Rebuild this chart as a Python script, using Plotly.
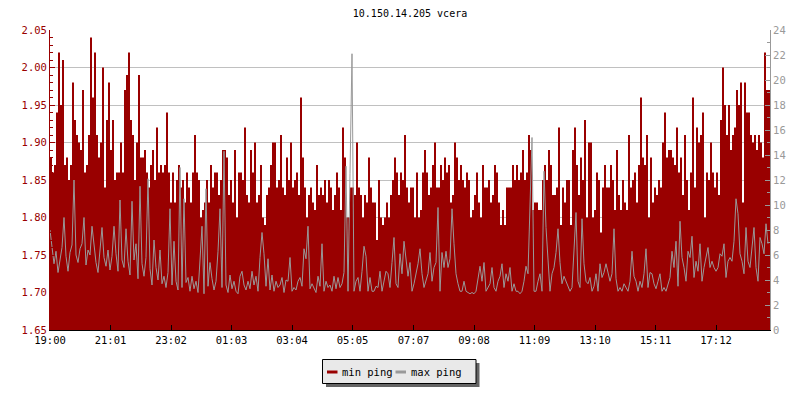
import plotly.graph_objects as go
from datetime import datetime, timedelta

title_text = "10.150.14.205 vcera"
series_names = ["min ping", "max ping"]
start_time = "2024-01-01 19:00"
sample_minutes = 4
x_tick_labels = ["19:00", "21:01", "23:02", "01:03", "03:04", "05:05",
                 "07:07", "09:08", "11:09", "13:10", "15:11", "17:12"]

# min ping (left axis, ms) - one value every 4 minutes, 19:00 -> 19:00
min_ping = [
    1.88, 1.86, 1.87, 1.94, 2.02, 1.95, 2.01, 1.87, 1.88, 1.85, 1.87, 1.98, 1.93, 1.91, 1.90, 1.89, 1.97, 1.86, 1.87, 1.91,
    2.04, 1.96, 2.02, 1.91, 1.88, 1.90, 2.00, 1.84, 1.93, 1.98, 1.89, 1.93, 1.85, 1.86, 1.86, 1.90, 1.86, 1.97, 1.99, 2.02,
    1.93, 1.91, 1.85, 1.90, 1.99, 1.88, 1.88, 1.89, 1.86, 1.84, 1.87, 1.89, 1.85, 1.92, 1.86, 1.87, 1.86, 1.87, 1.94, 1.86,
    1.82, 1.86, 1.82, 1.85, 1.87, 1.84, 1.85, 1.82, 1.86, 1.84, 1.82, 1.86, 1.91, 1.86, 1.85, 1.80, 1.81, 1.82, 1.85, 1.82,
    1.87, 1.84, 1.86, 1.86, 1.83, 1.85, 1.89, 1.89, 1.88, 1.83, 1.85, 1.82, 1.89, 1.80, 1.86, 1.86, 1.85, 1.92, 1.83, 1.82,
    1.89, 1.86, 1.90, 1.82, 1.83, 1.87, 1.80, 1.79, 1.83, 1.84, 1.87, 1.90, 1.90, 1.84, 1.85, 1.91, 1.84, 1.83, 1.88, 1.85,
    1.90, 1.84, 1.85, 1.86, 1.83, 1.96, 1.88, 1.84, 1.80, 1.83, 1.84, 1.82, 1.81, 1.87, 1.83, 1.84, 1.83, 1.85, 1.82, 1.85,
    1.84, 1.81, 1.83, 1.86, 1.84, 1.81, 1.92, 1.88, 1.80, 1.80, 1.84, 1.84, 1.83, 1.90, 1.84, 1.83, 1.80, 1.83, 1.82, 1.88,
    1.84, 1.82, 1.82, 1.77, 1.85, 1.80, 1.79, 1.80, 1.82, 1.80, 1.83, 1.85, 1.88, 1.86, 1.83, 1.86, 1.85, 1.91, 1.84, 1.82,
    1.84, 1.84, 1.80, 1.86, 1.80, 1.81, 1.86, 1.89, 1.86, 1.83, 1.84, 1.87, 1.90, 1.84, 1.84, 1.87, 1.85, 1.88, 1.86, 1.87,
    1.82, 1.83, 1.90, 1.88, 1.85, 1.87, 1.85, 1.84, 1.86, 1.85, 1.80, 1.81, 1.83, 1.86, 1.82, 1.80, 1.87, 1.84, 1.84, 1.85,
    1.82, 1.83, 1.87, 1.86, 1.82, 1.79, 1.81, 1.79, 1.84, 1.84, 1.84, 1.87, 1.85, 1.87, 1.85, 1.86, 1.89, 1.85, 1.86, 1.91,
    1.89, 1.81, 1.82, 1.82, 1.81, 1.81, 1.85, 1.87, 1.85, 1.89, 1.87, 1.83, 1.83, 1.84, 1.92, 1.79, 1.84, 1.82, 1.85, 1.85,
    1.79, 1.89, 1.92, 1.87, 1.83, 1.88, 1.85, 1.93, 1.80, 1.90, 1.90, 1.80, 1.81, 1.86, 1.85, 1.78, 1.84, 1.87, 1.84, 1.84,
    1.87, 1.85, 1.81, 1.89, 1.83, 1.81, 1.85, 1.82, 1.81, 1.91, 1.84, 1.85, 1.86, 1.82, 1.87, 1.96, 1.88, 1.87, 1.91, 1.80,
    1.88, 1.82, 1.84, 1.83, 1.85, 1.84, 1.90, 1.94, 1.88, 1.89, 1.89, 1.88, 1.87, 1.92, 1.86, 1.88, 1.83, 1.91, 1.85, 1.81,
    1.86, 1.96, 1.84, 1.92, 1.90, 1.91, 1.94, 1.80, 1.86, 1.85, 1.90, 1.86, 1.84, 1.86, 1.83, 1.93, 2.00, 1.95, 1.91, 1.95,
    1.89, 1.91, 1.92, 1.97, 1.95, 1.98, 1.82, 1.98, 1.94, 1.94, 1.91, 1.90, 1.91, 1.89, 1.91, 1.90, 1.88, 2.02, 1.97, 1.97,
]

# max ping (right axis) - same 4-minute samples
max_ping = [
    8.0, 6.5, 5.3, 6.3, 4.6, 5.6, 6.6, 9.0, 5.9, 4.7, 6.2, 6.8, 12.0, 6.0, 5.4, 6.5, 6.9, 9.0, 5.2, 6.4,
    6.0, 8.3, 6.6, 5.4, 4.6, 6.8, 8.2, 5.8, 5.1, 6.4, 4.8, 5.9, 8.3, 6.1, 4.7, 10.4, 5.6, 5.0, 8.1, 5.5,
    4.4, 10.3, 5.6, 6.9, 4.1, 11.5, 5.3, 4.3, 5.8, 12.1, 4.9, 3.6, 7.2, 5.0, 4.0, 6.4, 3.7, 4.3, 3.4, 4.6,
    9.7, 3.6, 7.1, 3.9, 3.2, 13.0, 3.4, 10.5, 3.8, 4.2, 3.1, 4.3, 3.3, 3.9, 3.0, 5.6, 8.3, 2.9, 11.3, 3.5,
    5.4, 4.1, 3.2, 3.9, 6.3, 9.7, 3.4, 14.3, 3.6, 3.0, 4.4, 3.3, 3.9, 3.1, 2.9, 4.3, 4.7, 3.6, 3.2, 3.9,
    3.3, 4.7, 3.6, 4.3, 3.1, 5.8, 7.8, 6.1, 3.5, 5.7, 3.2, 4.4, 3.1, 3.9, 3.4, 3.6, 4.2, 3.0, 4.0, 3.9,
    5.8, 3.1, 3.4, 3.2, 3.9, 4.2, 3.5, 6.5, 5.7, 8.3, 3.3, 3.7, 3.3, 3.0, 4.3, 3.5, 6.9, 3.1, 3.9, 3.4,
    3.6, 3.1, 4.3, 3.3, 4.2, 3.4, 3.7, 4.6, 13.1, 3.1, 12.5, 22.1, 3.1, 3.9, 4.2, 3.1, 4.7, 6.7, 5.9, 3.1,
    4.2, 3.1, 3.1, 3.5, 3.4, 4.7, 3.1, 3.9, 4.7, 4.5, 3.4, 5.4, 7.4, 3.7, 3.4, 6.1, 4.5, 7.1, 5.4, 4.3,
    5.4, 3.1, 3.7, 4.5, 5.3, 6.5, 4.5, 3.4, 3.9, 4.5, 6.2, 3.9, 5.0, 5.4, 9.8, 3.1, 6.2, 5.0, 6.3, 5.0,
    5.7, 9.7, 6.9, 4.5, 3.7, 3.1, 3.1, 3.9, 3.1, 3.0, 2.9, 3.0, 2.9, 3.1, 4.3, 5.1, 3.9, 5.4, 3.1, 3.4,
    3.7, 5.0, 3.4, 3.1, 3.9, 4.3, 5.3, 3.4, 4.5, 3.9, 5.0, 3.1, 3.7, 3.1, 3.1, 2.9, 3.1, 3.9, 5.1, 4.5,
    9.4, 15.4, 3.1, 3.1, 3.9, 4.5, 3.1, 12.7, 8.2, 5.4, 3.1, 4.5, 5.0, 6.2, 8.1, 5.4, 3.7, 4.3, 3.9, 3.4,
    3.1, 3.4, 6.1, 9.4, 3.9, 3.4, 8.9, 5.3, 3.9, 3.7, 4.2, 3.1, 3.5, 4.5, 3.1, 5.3, 4.2, 4.6, 5.3, 4.7,
    3.9, 4.5, 8.1, 4.1, 3.1, 3.4, 3.1, 3.7, 3.4, 3.1, 3.9, 6.3, 4.3, 3.9, 3.1, 3.9, 3.4, 4.5, 6.5, 3.4,
    4.6, 4.5, 3.7, 3.3, 3.9, 4.5, 3.1, 3.4, 3.1, 3.7, 4.2, 6.3, 5.0, 7.1, 3.5, 8.7, 5.8, 5.0, 3.9, 6.3,
    5.8, 7.5, 4.2, 5.5, 4.7, 6.9, 3.9, 5.0, 5.8, 6.6, 5.0, 5.5, 5.0, 4.7, 5.0, 6.1, 5.9, 6.9, 4.2, 5.5,
    5.8, 5.5, 7.1, 10.5, 9.3, 6.1, 5.5, 4.5, 8.2, 5.5, 5.0, 6.9, 8.2, 5.0, 3.9, 7.4, 6.9, 6.1, 8.5, 6.9,
]

RED = "#990000"
GRAY = "#999999"
MONO = "DejaVu Sans Mono"

t0 = datetime.strptime(start_time, "%Y-%m-%d %H:%M")
times = [t0 + timedelta(minutes=sample_minutes * i) for i in range(len(min_ping))]
t_end = t0 + timedelta(hours=24)


def label_to_dt(lbl):
    h, m = map(int, lbl.split(":"))
    d = t0.replace(hour=h, minute=m)
    if d < t0:
        d += timedelta(days=1)
    return d


tick_vals = [label_to_dt(l) for l in x_tick_labels]

fig = go.Figure()
fig.add_trace(go.Scatter(
    x=times + [t_end], y=min_ping + [min_ping[-1]], name=series_names[0],
    mode="lines", line=dict(shape="hv", width=0, color=RED),
    fill="tozeroy", fillcolor=RED, hoverinfo="skip"))
fig.add_trace(go.Scatter(
    x=times, y=max_ping, name=series_names[1], yaxis="y2",
    mode="lines", line=dict(color=GRAY, width=1)))

L, R, T, B = 50, 30, 30, 70
PW, PH = 800 - L - R, 400 - T - B


def px(xp):
    return (xp - L) / PW


def py(yp):
    return (400 - B - yp) / PH


shapes = [
    dict(type="rect", xref="paper", yref="paper", x0=px(326), x1=px(479.5),
         y0=py(387), y1=py(363), fillcolor="#646464", line=dict(width=0), layer="above"),
    dict(type="rect", xref="paper", yref="paper", x0=px(322.5), x1=px(476),
         y0=py(383.5), y1=py(359.5), fillcolor="#e9e9e9", line=dict(color="black", width=1), layer="above"),
    dict(type="line", xref="paper", yref="paper", x0=px(327), x1=px(337.5),
         y0=py(372), y1=py(372), line=dict(color=RED, width=3), layer="above"),
    dict(type="line", xref="paper", yref="paper", x0=px(395.5), x1=px(406),
         y0=py(372), y1=py(372), line=dict(color=GRAY, width=3), layer="above"),
]
annotations = [
    dict(text=series_names[0], xref="paper", yref="paper", x=px(340), y=py(371.5),
         xanchor="left", yanchor="middle", showarrow=False,
         font=dict(family=MONO, size=10.5, color="black")),
    dict(text=series_names[1], xref="paper", yref="paper", x=px(408.5), y=py(371.5),
         xanchor="left", yanchor="middle", showarrow=False,
         font=dict(family=MONO, size=10.5, color="black")),
]

fig.update_layout(
    width=800, height=400, margin=dict(l=L, r=R, t=T, b=B, autoexpand=False),
    paper_bgcolor="white", plot_bgcolor="white", showlegend=False,
    title=dict(text=title_text, x=0.5, xanchor="center", xref="paper",
               y=1 - 13.5 / 400, yanchor="middle", yref="container",
               font=dict(family=MONO, size=10, color="black")),
    xaxis=dict(type="date", range=[t0, t_end], tickmode="array",
               tickvals=tick_vals, ticktext=x_tick_labels, automargin=False,
               ticks="inside", ticklen=5, tickcolor="black", tickwidth=1,
               showline=True, linecolor="black", linewidth=1,
               showgrid=False, zeroline=False,
               tickfont=dict(family=MONO, size=10.5, color="black")),
    yaxis=dict(range=[1.65, 2.05], tick0=1.65, dtick=0.05, tickformat=".2f",
               automargin=False,
               ticks="inside", ticklen=5, tickcolor=RED, tickwidth=1,
               showline=True, linecolor=RED, linewidth=1,
               showgrid=True, gridcolor="#c0c0c0", gridwidth=1, zeroline=False,
               tickfont=dict(family=MONO, size=10.5, color=RED),
               minor=dict(tick0=1.65, dtick=0.01, ticks="inside", ticklen=3,
                          tickcolor=RED, showgrid=False)),
    yaxis2=dict(overlaying="y", side="right", range=[0, 24], tick0=0, dtick=2,
                automargin=False,
                ticks="inside", ticklen=5, tickcolor=GRAY, tickwidth=1,
                showline=True, linecolor=GRAY, linewidth=1,
                showgrid=False, zeroline=False,
                tickfont=dict(family=MONO, size=10.5, color=GRAY),
                minor=dict(tick0=0, dtick=1, ticks="inside", ticklen=3,
                           tickcolor=GRAY, showgrid=False)),
    shapes=shapes, annotations=annotations,
)

fig.write_html("out.html", config={"displayModeBar": False})

# remove the browser's default 8px body margin so the figure sits at (0, 0)
with open("out.html", "r", encoding="utf-8") as f:
    html = f.read()
html = html.replace("<head>", "<head><style>html,body{margin:0;padding:0;}</style>", 1)
with open("out.html", "w", encoding="utf-8") as f:
    f.write(html)
